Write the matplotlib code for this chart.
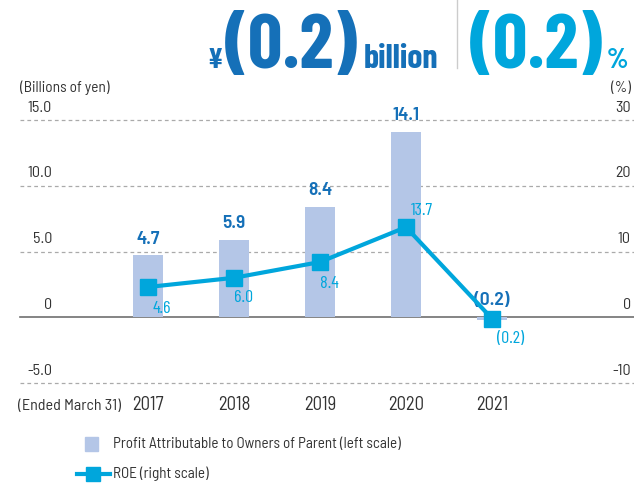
import matplotlib
matplotlib.use("Agg")
import matplotlib.pyplot as plt

years = ["2017", "2018", "2019", "2020", "2021"]
profit = [4.7, 5.9, 8.4, 14.1, -0.2]
profit_labels = ["4.7", "5.9", "8.4", "14.1", "(0.2)"]
roe = [4.6, 6.0, 8.4, 13.7, -0.2]
roe_labels = ["4.6", "6.0", "8.4", "13.7", "(0.2)"]
left_ticks = [-5.0, 0, 5.0, 10.0, 15.0]
left_tick_labels = ["-5.0", "0", "5.0", "10.0", "15.0"]
right_ticks = [-10, 0, 10, 20, 30]
right_tick_labels = ["-10", "0", "10", "20", "30"]

BAR = "#b4c6e7"
LINE = "#00a6dc"
DARK = "#1570b8"
TXT = "#333333"

SEMI = ["Barlow Semi Condensed", "DejaVu Sans"]
COND = ["Barlow Condensed", "DejaVu Sans"]
plt.rcParams["font.family"] = SEMI

W, H = 634, 486
fig = plt.figure(figsize=(W / 100, H / 100), dpi=100)

# axes placed so bars sit at x = 148 + 86*i px, y = -5..15 spans px 383..120
x0, x1 = 20, 634
ax = fig.add_axes([x0 / W, (H - 383) / H, (x1 - x0) / W, (383 - 120) / H])
ax.set_xlim((x0 - 148) / 86, (x1 - 148) / 86)
ax.set_ylim(-5, 15)
ax2 = ax.twinx()
ax2.set_ylim(-10, 30)
for a in (ax, ax2):
    a.axis("off")

xs = list(range(len(years)))
ax.bar(xs, profit, width=0.36, color=BAR, zorder=2)

for t, lab in zip(left_ticks, left_tick_labels):
    if t == 0:
        ax.axhline(t, color="#707070", lw=1.2, zorder=1, clip_on=False)
    else:
        ax.axhline(t, color="#aaaaaa", lw=0.9, ls=(0, (3, 2.5)), zorder=1,
                   clip_on=False)
    ax.text(32 / (x1 - x0), t + 0.4, lab, transform=ax.get_yaxis_transform(),
            ha="right", va="bottom", fontsize=11.5, color=TXT)

for t, lab in zip(right_ticks, right_tick_labels):
    ax2.text(0.995, t + 0.8, lab, transform=ax2.get_yaxis_transform(),
             ha="right", va="bottom", fontsize=11.5, color=TXT)

for x, v, lab in zip(xs, profit, profit_labels):
    ax.text(x, max(v, 0) + 0.6, lab, ha="center", va="bottom",
            fontsize=14, fontweight="semibold", color=DARK, zorder=4)

ax2.plot(xs, roe, color=LINE, lw=3, marker="s", markersize=11, zorder=5,
         clip_on=False)
roe_offsets = [(0.16, -3.3), (0.11, -3.0), (0.11, -3.3), (0.19, 2.5), (0.22, -3.0)]
for x, v, lab, (dx, dy) in zip(xs, roe, roe_labels, roe_offsets):
    ax2.text(x + dx, v + dy, lab, ha="center", va="center",
             fontsize=13, color=LINE, zorder=6, family=COND)

# years under axis
for x, y in zip(xs, years):
    ax.text(x, -6.65, y, ha="center", va="center", fontsize=13.5, color=TXT,
            clip_on=False)
fig.text(18 / W, 1 - 406 / H, "(Ended March 31)", ha="left", va="center",
         fontsize=11.5, color=TXT)
fig.text(20 / W, 1 - 88 / H, "(Billions of yen)", ha="left", va="center",
         fontsize=11, color=TXT)
fig.text(631 / W, 1 - 88 / H, "(%)", ha="right", va="center",
         fontsize=11, color=TXT)

# legend
fig.patches.append(plt.Rectangle((85 / W, 1 - 451 / H), 13 / W, 14 / H,
                                 transform=fig.transFigure, color=BAR))
fig.text(113 / W, 1 - 444 / H, "Profit Attributable to Owners of Parent (left scale)",
         ha="left", va="center", fontsize=10.9, color=TXT)
fig.lines.append(plt.Line2D([77 / W, 110 / W], [1 - 474 / H, 1 - 474 / H],
                            transform=fig.transFigure, color=LINE, lw=3))
fig.lines.append(plt.Line2D([93 / W], [1 - 474 / H], transform=fig.transFigure,
                            color=LINE, marker="s", markersize=10, lw=0))
fig.text(113 / W, 1 - 474 / H, "ROE (right scale)", ha="left", va="center",
         fontsize=10.9, color=TXT)

# headline
base = 1 - 68 / H
fig.text(223 / W, base, "¥", ha="right", va="baseline", fontsize=21,
         fontweight="bold", color=DARK, family=COND)
fig.text(225 / W, base, "(0.2)", ha="left", va="baseline", fontsize=55,
         fontweight="bold", color=DARK, family=COND)
fig.text(364 / W, base, "billion", ha="left", va="baseline", fontsize=24.5,
         fontweight="bold", color=DARK, family=COND)
fig.lines.append(plt.Line2D([457 / W, 457 / W], [1, 1 - 68 / H],
                            transform=fig.transFigure, color="#cccccc", lw=1))
fig.text(470 / W, base, "(0.2)", ha="left", va="baseline", fontsize=55,
         fontweight="bold", color=LINE, family=COND)
fig.text(607 / W, base, "%", ha="left", va="baseline", fontsize=20,
         fontweight="bold", color=LINE, family=COND)

fig.savefig("out.png", dpi=100)
